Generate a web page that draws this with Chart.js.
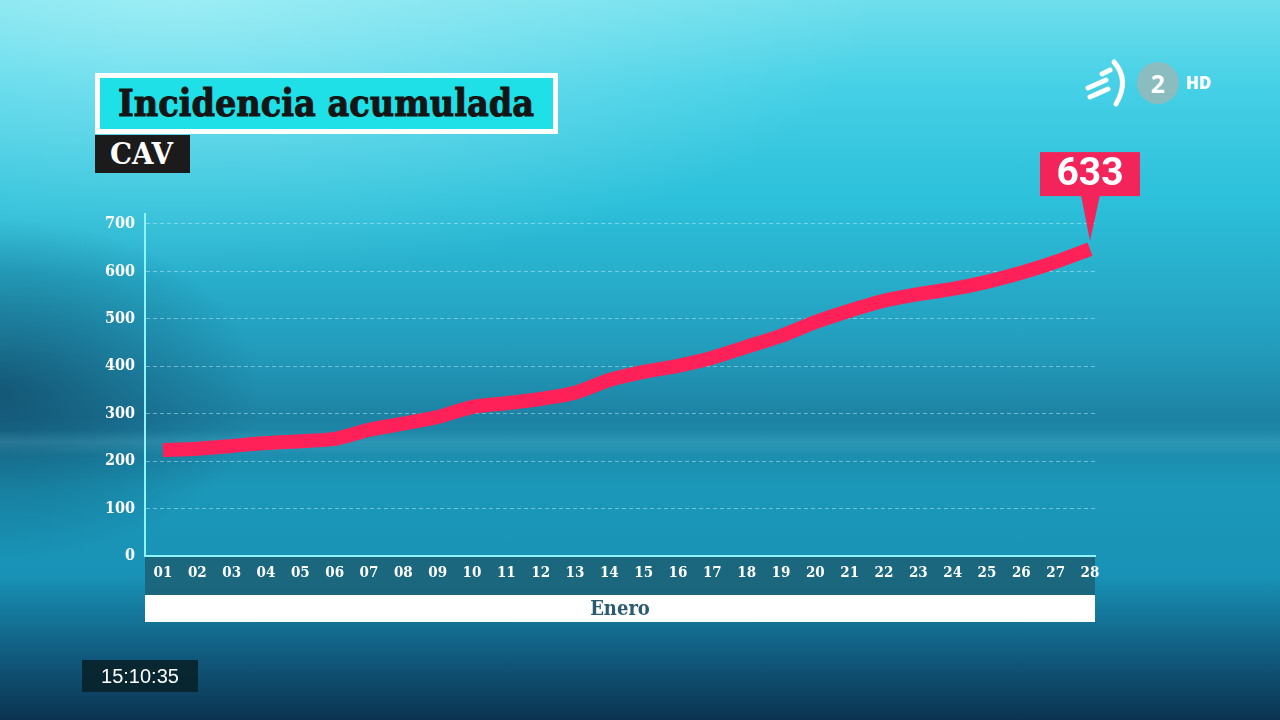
<!DOCTYPE html>
<html>
<head>
<meta charset="utf-8">
<script src="https://cdn.jsdelivr.net/npm/chart.js@4.4.1/dist/chart.umd.min.js"></script>
<style>
html, body { margin: 0; padding: 0; }
body {
	width: 1280px; height: 720px; overflow: hidden; position: relative;
	background:
		linear-gradient(to bottom, rgba(0,0,0,0) 430px, rgba(170,240,255,0.12) 442px, rgba(0,0,0,0) 456px),
		radial-gradient(ellipse 260px 170px at 0px 390px, rgba(12,45,75,0.55), rgba(0,0,0,0)),
		radial-gradient(ellipse 700px 280px at 180px 0px, rgba(210,255,255,0.45), rgba(0,0,0,0)),
		linear-gradient(to bottom, #6fdeec 0%, #45d0e6 12%, #2cc0da 28%, #239dbd 48%, #1d82a3 58%, #1b98b9 68%, #1892b6 80%, #105679 92%, #0b3350 100%);
	font-family: "DejaVu Serif", serif;
}
#chart { position: absolute; left: 0; top: 0; }
.titlebox {
	position: absolute; left: 95px; top: 73px; width: 463px; height: 61px;
	box-sizing: border-box; border: 5px solid #fff; background: #1fe0e6;
}
.fit { position: absolute; white-space: nowrap; transform-origin: 0 50%; font-weight: bold; }
#title { left: 18px; top: 5px; font-size: 38px; line-height: 40px; color: #151515; -webkit-text-stroke: 1px #151515; }
.cavbox { position: absolute; left: 95px; top: 135px; width: 95px; height: 38px; background: #1b1b1b; }
#cav { left: 15px; top: 3px; font-size: 29px; line-height: 32px; color: #fff; }
.clock {
	position: absolute; left: 82px; top: 660px; width: 116px; height: 32px;
	background: rgba(8, 34, 42, 0.9); color: #fff; font-family: "Liberation Sans", sans-serif;
	font-size: 20px; line-height: 32px; text-align: center;
}
.logo { position: absolute; left: 1080px; top: 58px; width: 150px; height: 50px; }
.logo .two {
	position: absolute; left: 57px; top: 4px; width: 42px; height: 42px; border-radius: 50%;
	background: rgba(150, 185, 185, 0.85); color: #fff; font-family: "Noto Sans", sans-serif;
	font-weight: bold; font-size: 25px; line-height: 42px; text-align: center;
}
.logo .hd {
	position: absolute; left: 106px; top: 13px; color: #fff; font-family: "Noto Sans", sans-serif;
	font-weight: 900; font-size: 17px; line-height: 24px;
}
</style>
</head>
<body>
<canvas id="chart" width="1280" height="720"></canvas>

<div class="titlebox"><span class="fit" id="title" data-w="416">Incidencia acumulada</span></div>
<div class="cavbox"><span class="fit" id="cav" data-w="63">CAV</span></div>
<div class="clock">15:10:35</div>
<div class="logo">
	<svg width="55" height="50" viewBox="0 0 55 50">
		<path d="M34 4 Q50 22 36 46" stroke="#fff" stroke-width="5" fill="none" stroke-linecap="round"/>
		<path d="M22 16 L30 12" stroke="#fff" stroke-width="5" stroke-linecap="round"/>
		<path d="M8 30 L26 22" stroke="#fff" stroke-width="5" stroke-linecap="round"/>
		<path d="M10 39 L28 31" stroke="#fff" stroke-width="5" stroke-linecap="round"/>
	</svg>
	<div class="two">2</div>
	<div class="hd">HD</div>
</div>

<script>
const days = ["01", "02", "03", "04", "05", "06", "07", "08", "09", "10", "11", "12", "13", "14",
	"15", "16", "17", "18", "19", "20", "21", "22", "23", "24", "25", "26", "27", "28"];
const incidence = [223, 226, 232, 238, 242, 247, 266, 279, 293, 314, 322, 331, 344, 371,
	388, 401, 418, 441, 464, 493, 517, 538, 552, 563, 578, 597, 620, 647];
const xMin = 0.476;
const xMax = 28.146;
const yMax = 721;
const yStep = 100;
const monthLabel = "Enero";
const calloutLabel = "633";

// squeeze the condensed headline texts to the width they have on screen
document.querySelectorAll(".fit").forEach((el) => {
	const w = el.getBoundingClientRect().width;
	el.style.transform = "scaleX(" + (parseFloat(el.dataset.w) / w) + ")";
});

const serifFont = "'DejaVu Serif Condensed', 'DejaVu Serif', serif";

const bands = {
	id: "bands",
	beforeDraw(chart) {
		const { ctx, chartArea } = chart;
		const w = chartArea.right - chartArea.left;
		ctx.save();
		ctx.fillStyle = "rgba(28, 96, 116, 0.85)";
		ctx.fillRect(chartArea.left, chartArea.bottom + 1, w, 38);
		ctx.fillStyle = "#ffffff";
		ctx.fillRect(chartArea.left, chartArea.bottom + 39, w, 27);
		ctx.restore();
	},
};

const callout = {
	id: "callout",
	afterDatasetsDraw(chart) {
		const { ctx } = chart;
		const meta = chart.getDatasetMeta(0);
		const pt = meta.data[meta.data.length - 1];
		const x = pt.x;
		const y = pt.y;
		ctx.save();
		ctx.fillStyle = "#f2245a";
		ctx.fillRect(x - 50, y - 97, 100, 44);
		ctx.beginPath();
		ctx.moveTo(x - 9, y - 54);
		ctx.lineTo(x + 10, y - 54);
		ctx.lineTo(x, y - 8);
		ctx.closePath();
		ctx.fill();
		ctx.fillStyle = "#ffffff";
		ctx.font = "bold 39px Roboto";
		ctx.textAlign = "center";
		ctx.textBaseline = "middle";
		ctx.fillText(calloutLabel, x, y - 74);
		ctx.restore();
	},
};

const ctx = document.getElementById("chart").getContext("2d");

const myChart = new Chart(ctx, {
	type: "line",
	data: {
		labels: days,
		datasets: [
			{
				data: incidence,
				borderColor: "#ff2158",
				borderWidth: 14,
				borderCapStyle: "butt",
				borderJoinStyle: "round",
				pointRadius: 0,
				tension: 0.25,
				fill: false,
			},
		],
	},
	options: {
		responsive: false,
		animation: false,
		layout: { padding: { left: 95, right: 185, top: 214, bottom: 98 } },
		plugins: { legend: { display: false }, tooltip: { enabled: false } },
		scales: {
			x: {
				type: "linear",
				min: xMin,
				max: xMax,
				grid: { display: false, drawTicks: false },
				border: { display: true, color: "#8ef5ff", width: 2 },
				ticks: {
					stepSize: 1,
					includeBounds: false,
					callback: (v) => days[v - 1],
					color: "#ffffff",
					font: { family: serifFont, size: 15, weight: "bold" },
					padding: 8,
					maxRotation: 0,
					autoSkip: false,
				},
				title: {
					display: true,
					text: monthLabel,
					color: "#2a5b70",
					font: { family: serifFont, size: 20, weight: "bold" },
					padding: { top: 0, bottom: 0 },
				},
				afterFit(scale) {
					scale.height = 66;
				},
			},
			y: {
				min: 0,
				max: yMax,
				grid: { color: "rgba(210, 245, 255, 0.45)", drawTicks: false, lineWidth: 1 },
				border: { display: true, color: "#8ef5ff", width: 2, dash: [4, 3] },
				ticks: {
					stepSize: yStep,
					includeBounds: false,
					color: "#ffffff",
					font: { family: serifFont, size: 16, weight: "bold" },
					padding: 10,
				},
				afterFit(scale) {
					scale.width = 50;
				},
			},
		},
	},
	plugins: [bands, callout],
});
</script>
</body>
</html>
